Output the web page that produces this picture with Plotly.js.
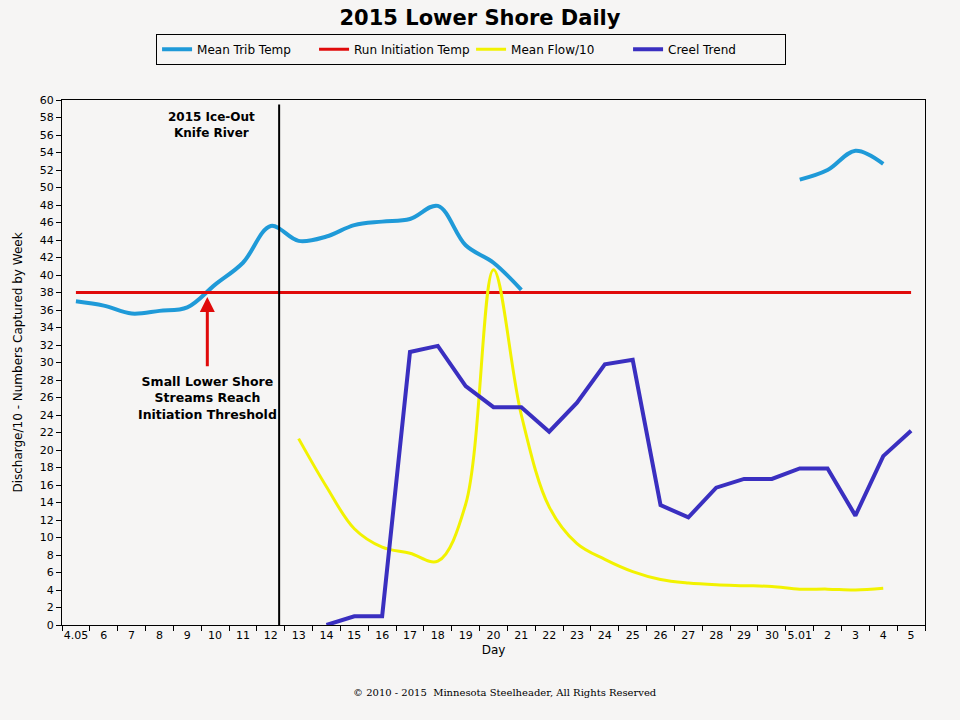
<!DOCTYPE html>
<html>
<head>
<meta charset="utf-8">
<script src="https://cdn.plot.ly/plotly-3.0.1.min.js"></script>
<style>html,body{margin:0;padding:0;background:#f6f5f4;}</style>
</head>
<body>
<div id="chart" style="width:960px;height:720px;"></div>
<script>
// Day categories (x axis tick labels)
var days = ["4.05","6","7","8","9","10","11","12","13","14","15","16","17","18","19","20","21","22","23","24","25","26","27","28","29","30","5.01","2","3","4","5"];

// Mean Trib Temp (deg F), gap where no data
var meanTribTemp = [37.0,36.5,35.6,35.9,36.3,38.9,41.4,45.6,43.9,44.4,45.7,46.1,46.4,47.9,43.4,41.4,38.3,
                    null,null,null,null,null,null,null,null,null,50.9,52.0,54.2,52.7,null];

// Run Initiation Temp (constant threshold)
var runInitiationTemp = [38,38,38,38,38,38,38,38,38,38,38,38,38,38,38,38,38,38,38,38,38,38,38,38,38,38,38,38,38,38,38];

// Mean Flow / 10
var meanFlow10 = [null,null,null,null,null,null,null,null,21.3,15.8,11.0,8.9,8.2,7.3,13.8,40.6,24.0,13.5,9.3,7.5,6.1,5.2,4.8,4.6,4.5,4.4,4.1,4.1,4.0,4.2,null];

// Creel Trend (numbers captured by week)
var creelTrend = [null,null,null,null,null,null,null,null,null,0,1,1,31.2,31.9,27.3,24.9,24.9,22.1,25.4,29.8,30.3,13.7,12.3,15.7,16.7,16.7,17.9,17.9,12.5,19.3,22.2];

// Annotation anchors (category index / value)
var iceOutIndex = 7.3;
var thresholdIndex = 4.72;
var thresholdArrowTip = 37.5;
var thresholdArrowTail = 29.4;

var traces = [
  {x: days, y: meanTribTemp, name: "Mean Trib Temp", type: "scatter", mode: "lines",
   line: {color: "#1f9ad8", width: 4, shape: "spline", smoothing: 1}, connectgaps: false},
  {x: days, y: runInitiationTemp, name: "Run Initiation Temp", type: "scatter", mode: "lines",
   line: {color: "#e00a0a", width: 3}},
  {x: days, y: meanFlow10, name: "Mean Flow/10", type: "scatter", mode: "lines",
   line: {color: "#f2f200", width: 3, shape: "spline", smoothing: 1}},
  {x: days, y: creelTrend, name: "Creel Trend", type: "scatter", mode: "lines",
   line: {color: "#3a2fc0", width: 4}}
];

var baseFont = {family: "DejaVu Sans, Verdana, sans-serif", size: 11, color: "#000"};

var layout = {
  width: 960, height: 720,
  paper_bgcolor: "#f6f5f4", plot_bgcolor: "#f6f5f4",
  margin: {l: 62, r: 35, t: 100, b: 95},
  font: baseFont,
  title: {text: "<b>2015 Lower Shore Daily</b>", x: 0.5, xanchor: "center", y: 0.975, yanchor: "middle",
          font: {family: "DejaVu Sans, Verdana, sans-serif", size: 21, color: "#000"}},
  showlegend: true,
  legend: {orientation: "h", x: 0.474, xanchor: "center", y: 1.126, yanchor: "top",
           bordercolor: "#000", borderwidth: 1, bgcolor: "rgba(0,0,0,0)",
           font: {family: "DejaVu Sans, Verdana, sans-serif", size: 12, color: "#000"},
           itemwidth: 30, entrywidth: 112, entrywidthmode: "pixels", tracegroupgap: 0},
  xaxis: {type: "category", categoryorder: "array", categoryarray: days,
          range: [-0.5, 30.5], tickson: "boundaries", ticks: "outside", ticklen: 5, tickcolor: "#000",
          showline: true, linecolor: "#000", linewidth: 1, mirror: true, showgrid: false, zeroline: false,
          tickfont: {size: 11}, tickangle: 0,
          title: {text: "Day", standoff: 4, font: {size: 12}}},
  yaxis: {range: [0, 60], dtick: 2, tick0: 0, ticks: "outside", ticklen: 5, tickcolor: "#000",
          showline: true, linecolor: "#000", linewidth: 1, mirror: true, showgrid: false, zeroline: false,
          tickfont: {size: 11},
          title: {text: "Discharge/10 - Numbers Captured by Week", standoff: 14, font: {size: 12}}},
  shapes: [
    {type: "line", xref: "x", yref: "y", x0: iceOutIndex, x1: iceOutIndex, y0: 0, y1: 59.5,
     line: {color: "#000", width: 2}}
  ],
  annotations: [
    {xref: "x", yref: "y", x: 4.87, y: 57.2, showarrow: false,
     text: "<b>2015 Ice-Out<br>Knife River</b>", font: {size: 12, color: "#000"}, align: "center"},
    {xref: "x", yref: "y", x: thresholdIndex, y: 26.0, showarrow: false,
     text: "<b>Small Lower Shore<br>Streams Reach<br>Initiation Threshold</b>", font: {size: 12.5, color: "#000"}, align: "center"},
    {xref: "x", yref: "y", axref: "x", ayref: "y", x: thresholdIndex, y: thresholdArrowTip,
     ax: thresholdIndex, ay: thresholdArrowTail, showarrow: true, arrowhead: 2, arrowsize: 1,
     arrowwidth: 3, arrowcolor: "#e00a0a", text: ""},
    {xref: "paper", yref: "paper", x: 0.513, y: -0.143, showarrow: false,
     text: "© 2010 - 2015  Minnesota Steelheader, All Rights Reserved",
     font: {family: "DejaVu Serif, serif", size: 10, color: "#000"}}
  ]
};

Plotly.newPlot("chart", traces, layout, {displayModeBar: false, staticPlot: true});
</script>
</body>
</html>
